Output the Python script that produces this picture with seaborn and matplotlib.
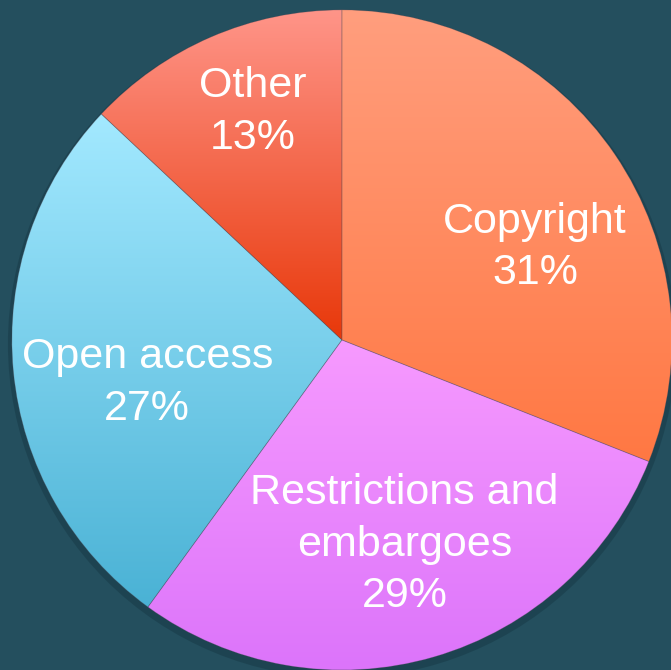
import numpy as np
import matplotlib
matplotlib.use('Agg')
import matplotlib.pyplot as plt
from matplotlib.colors import LinearSegmentedColormap
from matplotlib.patches import Circle
import seaborn as sns

# Data.
categories = ['Copyright', 'Restrictions and\nembargoes', 'Open access', 'Other']
shares = [31, 29, 27, 13]

# Slice colours (vertical gradient top -> bottom).
top_colors = ['#FF9E7E', '#F79AFF', '#A3E9FF', '#FF9589']
bottom_colors = ['#FF7843', '#DC74FA', '#4AB2D5', '#E8380A']

# Label offsets from pie centre, in radius units.
label_offsets = [(0.585, 0.28), (0.19, -0.62), (-0.59, -0.13), (-0.27, 0.69)]

bg = '#244F5E'

sns.set_theme(style='white')
plt.rcParams['font.family'] = ['Liberation Sans', 'DejaVu Sans']

fig = plt.figure(figsize=(6.71, 6.70), dpi=100, facecolor=bg)
ax = fig.add_axes([0, 0, 1, 1])
ax.set_facecolor(bg)

# Soft shadow under the pie.
ax.add_patch(Circle((0, -0.012), 1.012, color='#0d2a35', alpha=0.3, lw=0, zorder=0))

wedges, _ = ax.pie(shares, startangle=90, counterclock=False, radius=1.0,
                   wedgeprops={'linewidth': 0.6, 'edgecolor': (0.35, 0.3, 0.35, 0.3)})

for w, c_top, c_bot in zip(wedges, top_colors, bottom_colors):
    t = np.radians(np.linspace(w.theta1, w.theta2, 200))
    ys = np.concatenate([[w.center[1]], w.center[1] + w.r * np.sin(t)])
    ymin, ymax = ys.min(), ys.max()
    cmap = LinearSegmentedColormap.from_list('g', [c_bot, c_top])
    grad = np.linspace(0, 1, 256).reshape(-1, 1)
    im = ax.imshow(grad, cmap=cmap, origin='lower', aspect='auto',
                   extent=(-1.05, 1.05, ymin, ymax), zorder=1, interpolation='bilinear')
    im.set_clip_path(w)
    w.set_facecolor('none')
    w.set_zorder(2)

for label, pct, (dx, dy) in zip(categories, shares, label_offsets):
    ax.text(dx, dy, f'{label}\n{pct}%', color='white', fontsize=31,
            ha='center', va='center', linespacing=1.38, zorder=3)

ax.set_aspect('auto')
ax.set_xlim(-1.036, 0.997)
ax.set_ylim(-1.0, 1.03)
ax.axis('off')

fig.savefig('out.png', dpi=100, facecolor=bg)
